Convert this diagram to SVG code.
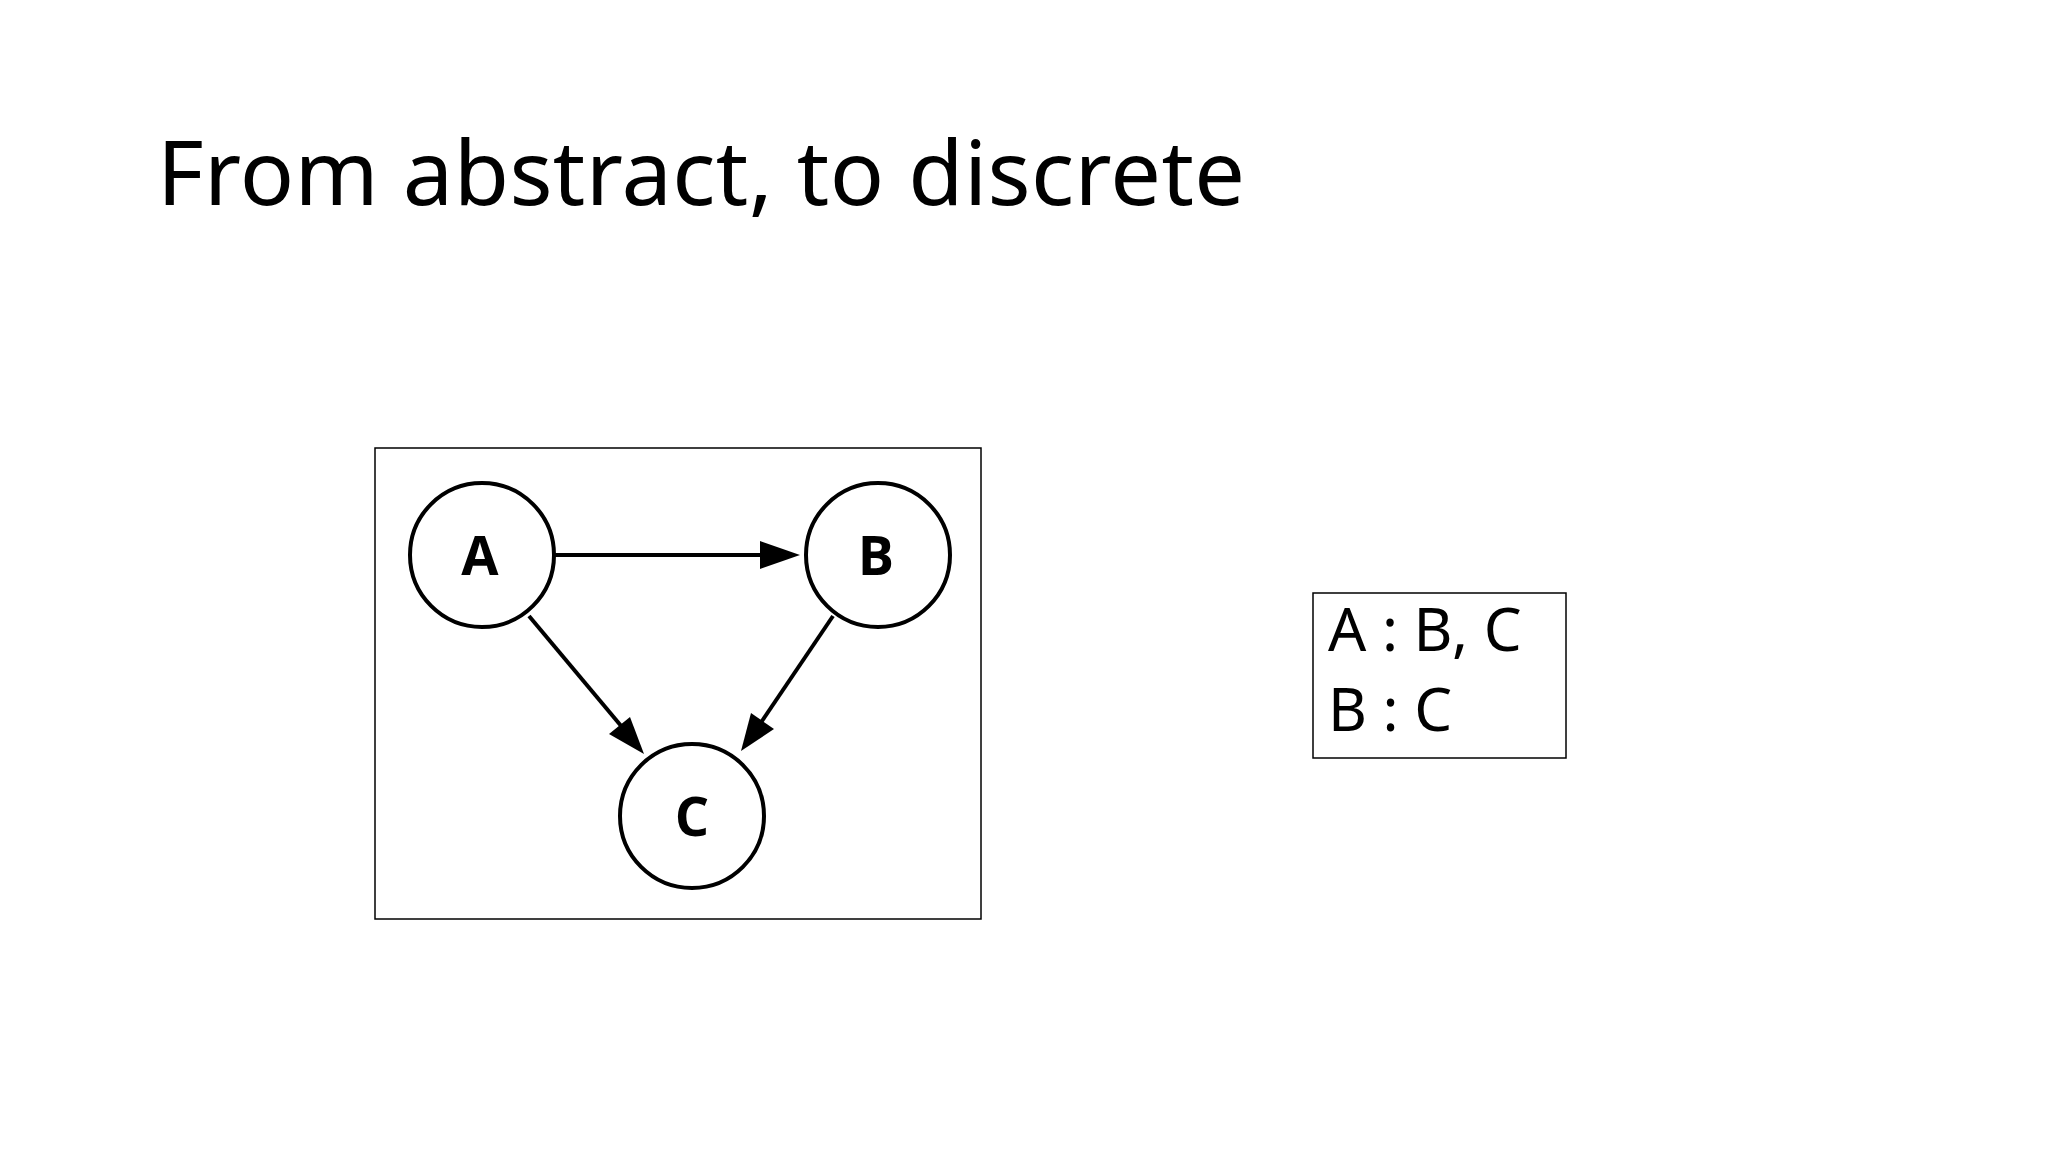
<svg xmlns="http://www.w3.org/2000/svg" width="2048" height="1152" viewBox="0 0 2048 1152">
<style>
.t{font-family:"Noto Sans","Open Sans",sans-serif;fill:#000}
.n{fill:#fff;stroke:#000;stroke-width:4}
.l{font-family:"Open Sans","Noto Sans",sans-serif;font-weight:bold;font-size:54px;text-anchor:middle}
.e{stroke:#000;stroke-width:4;fill:none}
</style>
<rect width="2048" height="1152" fill="#fff"/>
<text class="t" x="157" y="205" font-size="90" textLength="1088" lengthAdjust="spacing">From abstract, to discrete</text>
<rect x="375" y="448" width="606" height="471" fill="#fff" stroke="#000" stroke-width="1.5"/>
<g id="connectors">
<line class="e" x1="555" y1="555" x2="765" y2="555"/>
<line class="e" x1="529" y1="616" x2="622" y2="727"/>
<line class="e" x1="833" y1="616" x2="760" y2="724"/>
<polygon points="800,555 760,541 760,569"/>
<polygon points="644,754 609,734 630,717"/>
<polygon points="741,751 751,713 774,729"/>
</g>
<g id="A"><circle class="n" cx="482" cy="555" r="72"/><text class="l" x="480" y="575">A</text></g>
<g id="B"><circle class="n" cx="878" cy="555" r="72"/><text class="l" x="876" y="575">B</text></g>
<g id="C"><circle class="n" cx="692" cy="816" r="72"/><text class="l" x="692" y="836">C</text></g>
<g id="list"><rect x="1313" y="593" width="253" height="165" fill="#fff" stroke="#000" stroke-width="1.5"/>
<text class="t" x="1328" y="651" font-size="60">A : B, C</text>
<text class="t" x="1328" y="731" font-size="60">B : C</text></g>
</svg>
